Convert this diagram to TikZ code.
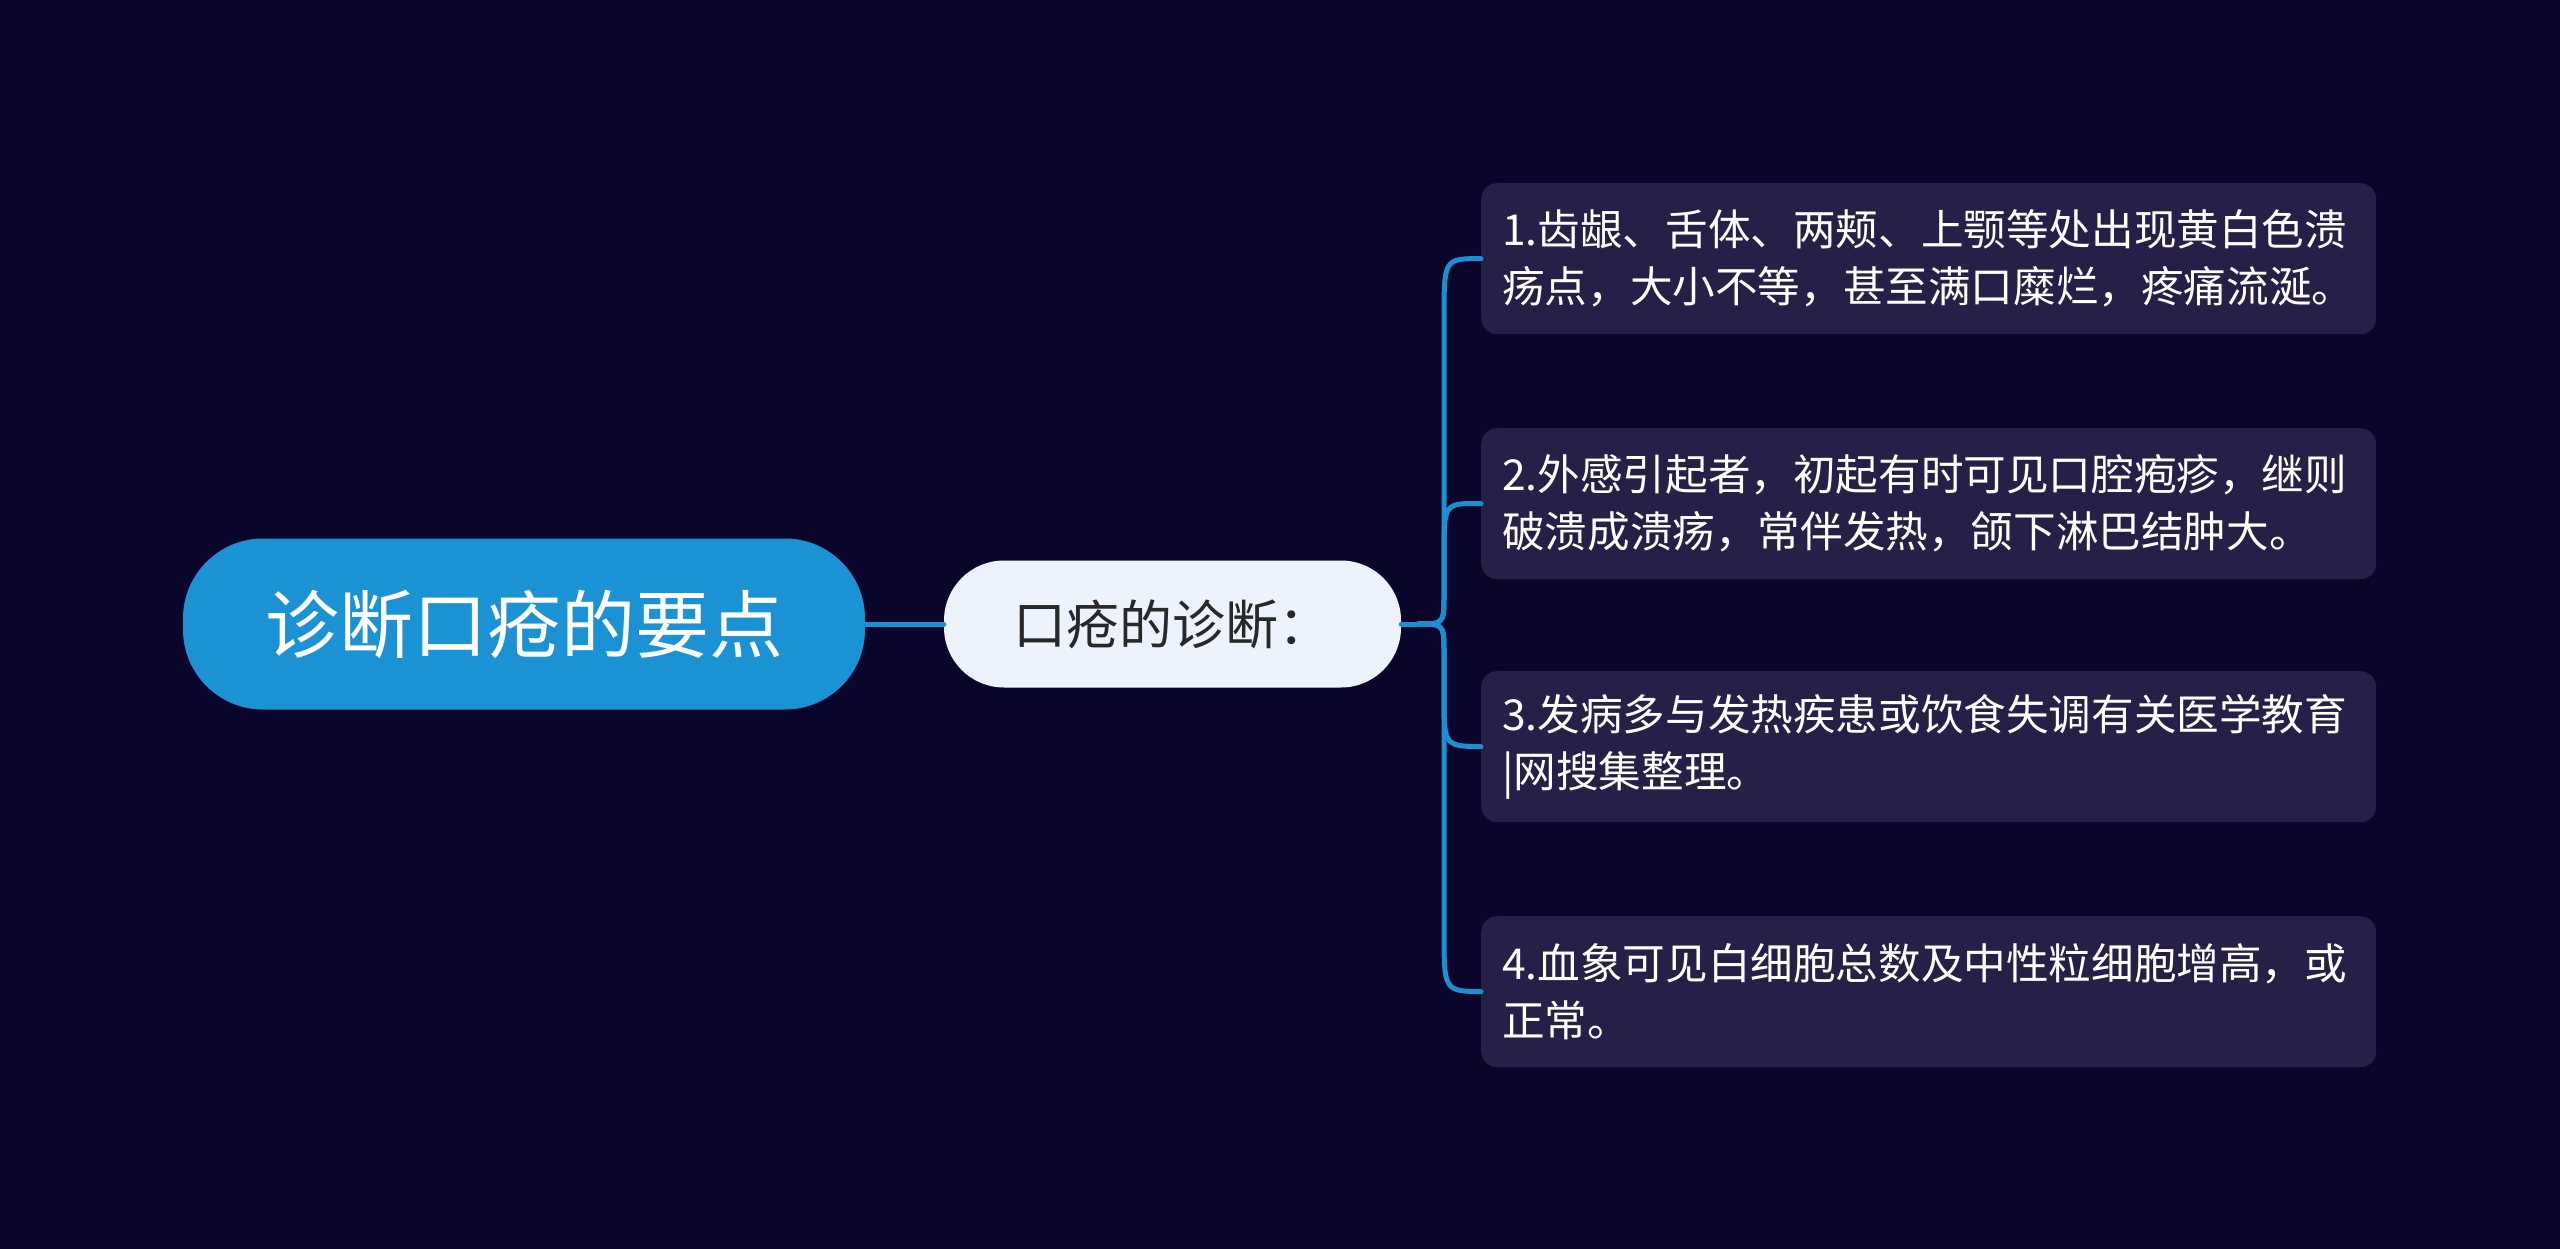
\documentclass[tikz,border=0pt]{standalone}
\usepackage{fontspec}
\setmainfont{Noto Sans CJK SC}
\definecolor{bgc}{RGB}{10,6,43}
\definecolor{rootc}{RGB}{27,146,211}
\definecolor{midc}{RGB}{237,243,253}
\definecolor{boxc}{RGB}{36,32,72}
\definecolor{linec}{RGB}{27,143,208}
\definecolor{midtext}{RGB}{40,40,40}
\begin{document}
\begin{tikzpicture}[x=1pt,y=-1pt,
  rootbox/.style={fill=rootc,rounded corners=80pt,minimum width=682pt,minimum height=171pt,inner sep=0pt,text=white,font=\fontsize{74}{80}\selectfont},
  midbox/.style={fill=midc,rounded corners=60pt,minimum width=457pt,minimum height=127pt,inner sep=0pt,text=midtext,font=\fontsize{53}{60}\selectfont},
  leafbox/.style={fill=boxc,rounded corners=16pt,minimum width=895pt,minimum height=151pt,text width=853pt,inner sep=21pt,align=left,text=white,anchor=north west,font=\fontsize{42.6}{57}\selectfont},
  conn/.style={draw=linec,line width=5pt,line cap=round}]
\fill[bgc] (0,0) rectangle (2560,1249);
\useasboundingbox (0,0) rectangle (2560,1249);

\node[rootbox] (root) at (524,624) {诊断口疮的要点};
\node[midbox] (mid) at (1172.5,624) {口疮的诊断：};

\node[leafbox] (b1) at (1481,183) {1.齿龈、舌体、两颊、上颚等处出现黄白色溃\\疡点，大小不等，甚至满口糜烂，疼痛流涎。};
\node[leafbox] (b2) at (1481,428) {2.外感引起者，初起有时可见口腔疱疹，继则\\破溃成溃疡，常伴发热，颌下淋巴结肿大。};
\node[leafbox] (b3) at (1481,671) {3.发病多与发热疾患或饮食失调有关医学教育\\|网搜集整理。};
\node[leafbox] (b4) at (1481,916) {4.血象可见白细胞总数及中性粒细胞增高，或\\正常。};

\draw[conn] (root.east) -- (mid.west);
\coordinate (j) at (1418,624);
\draw[conn] (mid.east) -- (j);

% branches
\draw[conn] (j) .. controls (1444,624) .. (1444,594) -- (1444,320) .. controls (1444,258.5) .. (b1.west);
\draw[conn] (j) .. controls (1444,624) .. (1444,594) -- (1444,555) .. controls (1444,503) .. (b2.west);
\draw[conn] (j) .. controls (1444,624) .. (1444,654) -- (1444,694) .. controls (1444,746) .. (b3.west);
\draw[conn] (j) .. controls (1444,624) .. (1444,654) -- (1444,930) .. controls (1444,991) .. (b4.west);
\end{tikzpicture}
\end{document}
